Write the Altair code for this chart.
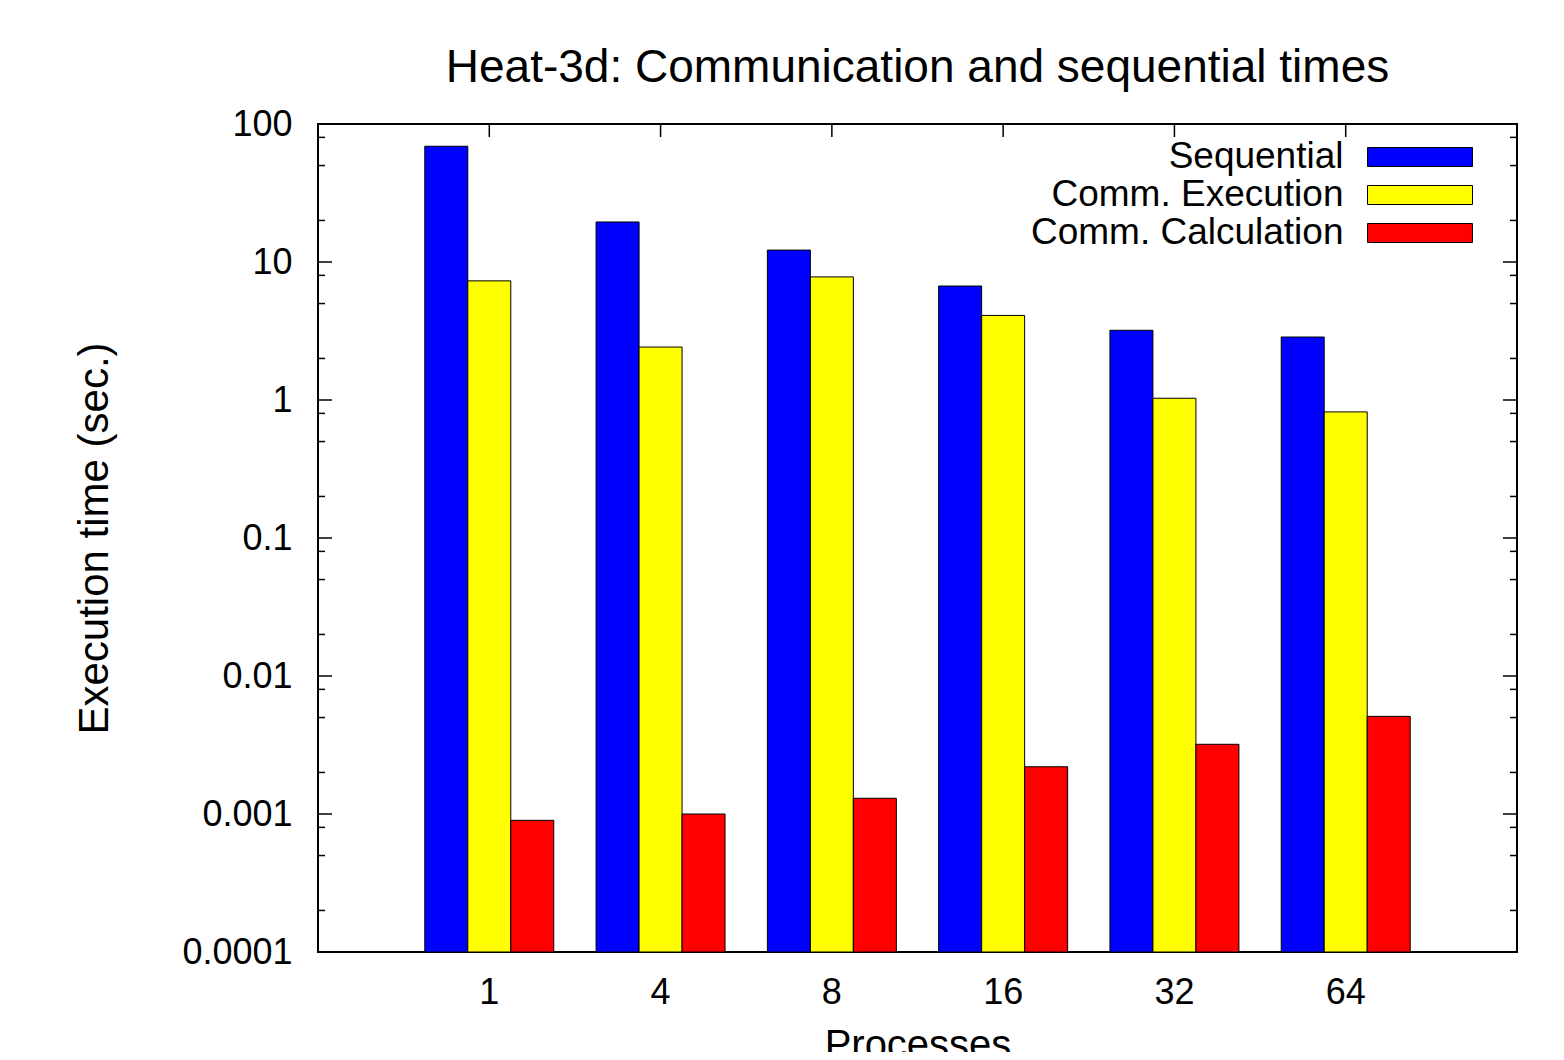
import altair as alt
import pandas as pd

FONT = "Liberation Sans"

procs = ["1", "4", "8", "16", "32", "64"]
series_names = ["Sequential", "Comm. Execution", "Comm. Calculation"]
series_colors = ["#0000ff", "#ffff00", "#ff0000"]

sequential = [69.0, 19.5, 12.2, 6.7, 3.2, 2.86]
comm_execution = [7.3, 2.42, 7.8, 4.1, 1.03, 0.82]
comm_calculation = [0.0009, 0.001, 0.0013, 0.0022, 0.0032, 0.0051]

y_major = [0.0001, 0.001, 0.01, 0.1, 1, 10, 100]
y_minor = [0.0002, 0.0005, 0.0008, 0.002, 0.005, 0.008, 0.02, 0.05, 0.08,
           0.2, 0.5, 0.8, 2, 5, 8, 20, 50, 80]

W, H = 1199, 828

rows = []
for name, vals in zip(series_names, [sequential, comm_execution, comm_calculation]):
    for p, v in zip(procs, vals):
        rows.append({"proc": p, "series": name, "value": v})
df = pd.DataFrame(rows)
major_df = pd.DataFrame({"value": y_major})
minor_df = pd.DataFrame({"value": y_minor})
proc_df = pd.DataFrame({"proc": procs})

yscale = alt.Scale(type="log", domain=[0.0001, 100], nice=False)
xscale = alt.Scale(paddingInner=0.247, paddingOuter=0.6235)
xaxis = alt.Axis(title="Processes", labelAngle=0)
yaxis = alt.Axis(values=y_major, format="~g", title="Execution time (sec.)")

bars = alt.Chart(df).mark_bar(stroke="black", strokeWidth=1).encode(
    x=alt.X("proc:N", sort=procs, scale=xscale, axis=xaxis),
    xOffset=alt.XOffset("series:N", sort=series_names),
    y=alt.Y("value:Q", scale=yscale, axis=yaxis),
    y2=alt.datum(0.0001),
    color=alt.Color("series:N", sort=series_names,
                    scale=alt.Scale(domain=series_names, range=series_colors),
                    legend=alt.Legend(
                        title=None, orient="none", legendX=1082.5, legendY=13.5,
                        direction="vertical", padding=0, rowPadding=0,
                        symbolType="M-2.763,-0.5L2.763,-0.5L2.763,0.5L-2.763,0.5Z",
                        symbolSize=1444,
                        symbolStrokeColor="black", symbolStrokeWidth=1, symbolOpacity=1,
                        labelOffset={"expr": "-96"}, labelAlign="right", labelBaseline="middle",
                        labelFont=FONT, labelFontSize=37, labelColor="black", labelLimit=1000)),
)

def yticks(data, x0, x1):
    return alt.Chart(data).mark_rule(color="black", strokeWidth=1.5).encode(
        y=alt.Y("value:Q", scale=yscale, axis=yaxis),
        x=alt.value(x0), x2=alt.value(x1))

left_major = yticks(major_df, 0, 14)
left_minor = yticks(minor_df, 0, 7)
right_major = yticks(major_df, W - 14, W)
right_minor = yticks(minor_df, W - 7, W)

top_ticks = alt.Chart(proc_df).mark_rule(color="black", strokeWidth=1.5).encode(
    x=alt.X("proc:N", sort=procs, scale=xscale, axis=xaxis),
    y=alt.value(0), y2=alt.value(13))

chart = alt.layer(bars, left_major, left_minor, right_major, right_minor, top_ticks).properties(
    width=W, height=H,
    autosize=alt.AutoSizeParams(type="none"),
    padding={"left": 310, "top": 116, "right": 39, "bottom": 100},
    title=alt.TitleParams("Heat-3d: Communication and sequential times", font=FONT,
                          fontSize=46, fontWeight="normal", color="black",
                          anchor="middle", frame="group", baseline="alphabetic",
                          offset={"expr": "-22"}),
).configure_view(
    stroke="black", strokeWidth=2
).configure_axis(
    domain=False, ticks=False, grid=False,
    labelFont=FONT, labelFontSize=36, labelColor="black",
    titleFont=FONT, titleFontSize=42, titleFontWeight="normal", titleColor="black",
).configure_axisY(
    labelPadding=26, titlePadding=65
).configure_axisX(
    labelPadding=23, titlePadding=15, titleFontSize=40
)

chart.save("out.html", embed_options={"renderer": "svg", "actions": False})
